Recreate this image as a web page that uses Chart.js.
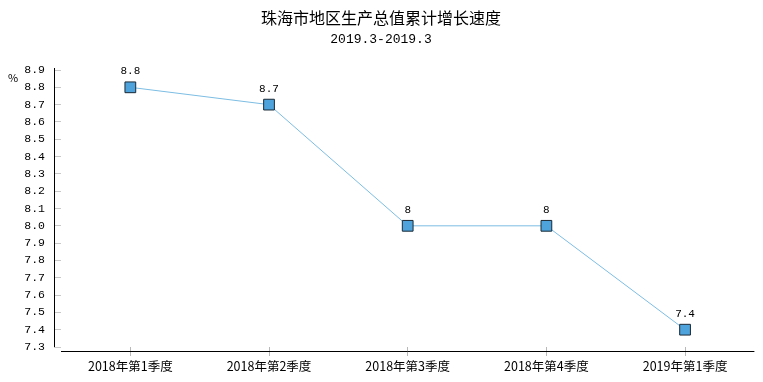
<!DOCTYPE html>
<html>
<head>
<meta charset="utf-8">
<script src="https://cdn.jsdelivr.net/npm/chart.js@4/dist/chart.umd.min.js"></script>
<style>
  html, body { margin: 0; padding: 0; background: #fff; }
  #wrap { width: 763px; height: 382px; }
</style>
</head>
<body>
<div id="wrap"><canvas id="c" width="763" height="382"></canvas></div>
<script>
const titleText = '珠海市地区生产总值累计增长速度';
const subtitleText = '2019.3-2019.3';
const unitLabel = '%';
const quarters = ['2018年第1季度', '2018年第2季度', '2018年第3季度', '2018年第4季度', '2019年第1季度'];
const growth = [8.8, 8.7, 8.0, 8.0, 7.4];
const valueLabels = ['8.8', '8.7', '8', '8', '7.4'];

// titles, axis lines and value labels
const decor = {
  id: 'decor',
  afterDraw(chart) {
    const { ctx, chartArea } = chart;
    ctx.save();
    ctx.fillStyle = '#000';
    ctx.textAlign = 'center';
    ctx.textBaseline = 'middle';
    ctx.font = '16px "Noto Sans CJK SC"';
    ctx.fillText(titleText, 381, 18);
    ctx.font = '13px "Liberation Mono"';
    ctx.fillText(subtitleText, 381, 40);
    ctx.font = '11px "Noto Sans CJK SC"';
    ctx.fillText(unitLabel, 13, 78);

    ctx.strokeStyle = '#000';
    ctx.lineWidth = 1;
    ctx.beginPath();
    ctx.moveTo(54.5, chartArea.top - 2);
    ctx.lineTo(54.5, chartArea.bottom);
    ctx.moveTo(chartArea.left, chartArea.bottom + 4.5);
    ctx.lineTo(chartArea.right, chartArea.bottom + 4.5);
    ctx.stroke();

    ctx.font = '11px "Liberation Mono"';
    const pts = chart.getDatasetMeta(0).data;
    pts.forEach((p, i) => {
      ctx.fillText(valueLabels[i], p.x, p.y - 16);
    });
    ctx.restore();
  }
};

new Chart(document.getElementById('c'), {
  type: 'line',
  data: {
    labels: quarters,
    datasets: [{
      data: growth,
      borderColor: '#7cbde3',
      borderWidth: 1,
      pointStyle: 'rect',
      pointRadius: 7.6,
      pointHoverRadius: 7.6,
      pointBackgroundColor: '#4ea3dc',
      pointBorderColor: '#1b2a36',
      pointBorderWidth: 1,
      tension: 0,
    }]
  },
  options: {
    responsive: false,
    animation: false,
    layout: { padding: { top: 70, right: 8, left: 0, bottom: 0 } },
    plugins: { legend: { display: false }, tooltip: { enabled: false } },
    scales: {
      x: {
        offset: true,
        border: { display: false },
        grid: { drawOnChartArea: false, drawTicks: true, tickLength: 9, color: '#b8b8b8', offset: false },
        ticks: { color: '#000', font: { family: '"Noto Sans CJK SC"', size: 12.5 }, padding: 3, maxRotation: 0 },
        afterFit(s) { s.height = 35; }
      },
      y: {
        min: 7.3,
        max: 8.9,
        border: { display: false },
        grid: { drawOnChartArea: false, drawTicks: true, tickLength: 7, color: '#c8c8c8' },
        ticks: {
          stepSize: 0.1,
          color: '#000',
          padding: 9,
          font: { family: '"Liberation Mono"', size: 11.5 },
          callback: v => v.toFixed(1)
        },
        afterFit(s) { s.width = 61; }
      }
    }
  },
  plugins: [decor]
});
</script>
</body>
</html>
